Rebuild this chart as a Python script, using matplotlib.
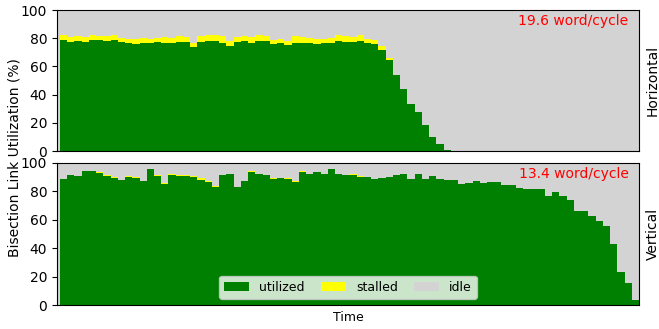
import numpy as np
import matplotlib.pyplot as plt

#utilization per time slot, horizontal links
horiz_util = [78.5, 77.4, 78.3, 77.4, 78.5, 78.5, 77.8, 78.5, 77.4, 76.9,
              76.0, 76.9, 76.4, 77.6, 76.9, 76.9, 77.4, 77.4, 73.5, 77.4,
              77.8, 77.8, 76.9, 74.7, 77.4, 77.8, 76.9, 77.8, 77.8, 76.1,
              76.6, 75.2, 76.9, 76.4, 76.6, 76.1, 76.6, 76.6, 77.8, 77.4,
              77.4, 77.8, 76.6, 75.9, 71.8, 64.5, 53.7, 44.0, 33.1, 27.7,
              18.2, 9.9, 5.0, 0.7] + [0.0] * 26
horiz_stall = [3.5, 3.2, 3.2, 3.4, 3.5, 3.2, 3.5, 3.8, 2.7, 2.8,
               3.2, 3.2, 2.8, 2.5, 3.9, 3.5, 3.9, 3.4, 2.9, 3.9,
               4.2, 4.2, 4.6, 3.1, 3.2, 3.5, 3.7, 4.2, 3.9, 2.8,
               3.1, 3.0, 4.4, 4.2, 3.5, 3.3, 3.1, 3.5, 4.5, 4.1,
               3.7, 4.7, 3.1, 3.0, 2.4, 1.5, 0.4, 0.2, 0.0, 0.0,
               0.0, 0.0, 0.0, 0.0] + [0.0] * 26

#utilization per time slot, vertical links
vert_util = [89.0, 91.8, 91.1, 94.1, 94.1, 92.7, 90.6, 89.4, 88.3, 90.4,
             89.2, 87.6, 96.0, 90.6, 85.0, 91.5, 91.1, 91.1, 90.4, 88.3,
             86.4, 82.9, 91.5, 92.5, 83.3, 87.6, 93.7, 92.3, 91.5, 88.7,
             89.4, 88.7, 86.6, 93.9, 92.3, 93.7, 92.0, 95.5, 92.3, 91.8,
             91.8, 89.9, 89.9, 89.0, 89.4, 89.9, 91.8, 92.3, 88.7, 92.5,
             88.7, 90.6, 89.0, 87.7, 88.3, 85.4, 86.0, 87.2, 86.0, 86.4,
             86.4, 84.5, 84.5, 82.2, 81.9, 81.9, 81.9, 77.0, 79.3, 77.0,
             73.7, 66.4, 66.4, 62.4, 58.9, 55.9, 43.0, 23.5, 15.5, 3.3]
vert_stall = [0.0, 0.0, 0.0, 0.0, 0.2, 0.7, 0.9, 0.7, 0.0, 0.4,
              0.7, 0.0, 0.0, 0.9, 0.7, 0.8, 0.4, 0.4, 0.7, 0.9,
              0.9, 0.9, 0.0, 0.0, 0.0, 0.0, 0.4, 0.0, 0.0, 0.7,
              0.3, 0.5, 0.7, 0.5, 0.0, 0.0, 0.0, 0.0, 0.0, 0.0,
              0.7, 0.7, 0.5, 0.0, 0.0, 0.0, 0.0, 0.0, 0.0, 0.0,
              0.0, 0.0, 0.0, 0.0, 0.0, 0.0, 0.0, 0.0, 0.0, 0.0,
              0.0, 0.0, 0.0, 0.0, 0.0, 0.0, 0.0, 0.0, 0.0, 0.0,
              0.0, 0.0, 0.0, 0.0, 0.0, 0.0, 0.0, 0.0, 0.0, 0.0]

panels = ['Horizontal', 'Vertical']
bandwidth = ['19.6 word/cycle', '13.4 word/cycle']

fig = plt.figure(figsize=(6.59, 3.29), dpi=100)
ax_h = fig.add_axes([0.0865, 0.541, 0.8832, 0.4286])
ax_v = fig.add_axes([0.0865, 0.0729, 0.8832, 0.4317])

series = [(horiz_util, horiz_stall), (vert_util, vert_stall)]
for ax, (util, stall), name, bw in zip([ax_h, ax_v], series, panels, bandwidth):
	util = np.array(util)
	stall = np.array(stall)
	idle = 100 - util - stall
	x = np.arange(len(util))
	ax.bar(x, util, width=1, color='green', linewidth=0, label='utilized')
	ax.bar(x, stall, width=1, bottom=util, color='yellow', linewidth=0, label='stalled')
	ax.bar(x, idle, width=1, bottom=util + stall, color='lightgray', linewidth=0, label='idle')
	ax.set_facecolor('lightgray')
	ax.set_xlim(-0.9, len(util) - 0.5)
	ax.set_ylim(0, 100)
	ax.set_yticks([0, 20, 40, 60, 80, 100])
	ax.set_xticks([])
	ax.text(1.012, 0.5, name, transform=ax.transAxes, rotation=90, va='center', ha='left', fontsize=10)
	ax.text(0.982, 0.92, bw, transform=ax.transAxes, color='red', ha='right', va='center', fontsize=10)

ax_v.set_xlabel('Time', fontsize=9)
ax_v.legend(loc='lower center', ncol=3, fontsize=9, columnspacing=1.3)
fig.text(0.022, 0.52, 'Bisection Link Utilization (%)', rotation=90, va='center', ha='center', fontsize=10)

fig.savefig('out.png', dpi=100)
